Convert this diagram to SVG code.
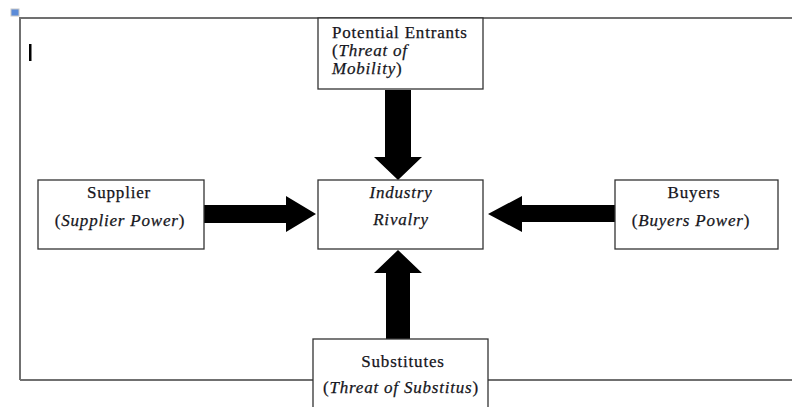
<svg xmlns="http://www.w3.org/2000/svg" width="792" height="407" viewBox="0 0 792 407">
<style>
.box{fill:#fff;stroke:#333;stroke-width:1.3}
.t{font-family:"Liberation Serif","Times New Roman",serif;font-size:17px;fill:#151520;stroke:#151520;stroke-width:0.25;letter-spacing:0.8px}
.i{font-style:italic}
.c{text-anchor:middle}
.frame{fill:none;stroke:#707070;stroke-width:2}
</style>
<rect width="792" height="407" fill="#fff"/>
<g id="frame">
<path class="frame" d="M20,380 V18 H792 M20,380 H792"/>
<rect x="11" y="9" width="8" height="7" fill="#5b8bd8" stroke="#c8c8c8" stroke-width="1"/>
<rect x="29" y="44" width="2.5" height="17" fill="#000"/>
</g>
<g id="connectors" fill="#000">
<polygon points="385,90 411,90 411,157 422,157 398,180 374,157 385,157"/>
<polygon points="204,205 286,205 286,196 316,214 286,232 286,223 204,223"/>
<polygon points="615,205 522,205 522,196 488,214 522,232 522,222 615,222"/>
<polygon points="386,339 410,339 410,273 422,273 398,250 374,273 386,273"/>
</g>
<g id="potential-entrants">
<rect class="box" x="318" y="18" width="165" height="71"/>
<text class="t" x="332" y="38">Potential Entrants</text>
<text class="t" x="332" y="56">(<tspan class="i">Threat of</tspan></text>
<text class="t i" x="332" y="74">Mobility<tspan font-style="normal">)</tspan></text>
</g>
<g id="supplier">
<rect class="box" x="38" y="180" width="166" height="69"/>
<text class="t c" x="119" y="198">Supplier</text>
<text class="t c" x="120" y="226">(<tspan class="i">Supplier Power</tspan>)</text>
</g>
<g id="industry-rivalry">
<rect class="box" x="318" y="180" width="165" height="69"/>
<text class="t c i" x="401" y="198">Industry</text>
<text class="t c i" x="401" y="225">Rivalry</text>
</g>
<g id="buyers">
<rect class="box" x="615" y="180" width="163" height="69"/>
<text class="t c" x="694" y="198">Buyers</text>
<text class="t c" x="691" y="226">(<tspan class="i">Buyers Power</tspan>)</text>
</g>
<g id="substitutes">
<rect class="box" x="313" y="339" width="175" height="80"/>
<text class="t c" x="403" y="367">Substitutes</text>
<text class="t c" x="401" y="393">(<tspan class="i">Threat of Substitus</tspan>)</text>
</g>
</svg>
